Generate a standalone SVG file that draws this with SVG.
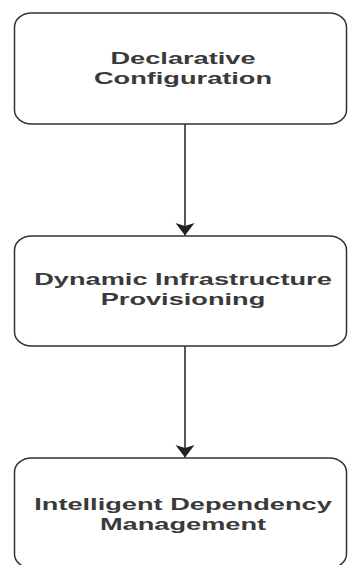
<svg xmlns="http://www.w3.org/2000/svg" width="348" height="565" viewBox="0 0 348 565">
  <style>
    .box { fill: #ffffff; stroke: #333333; stroke-width: 1.5; }
    .label { font-family: "Liberation Sans", Arial, sans-serif; font-size: 16px; font-weight: bold; fill: #3a3a3a; text-anchor: middle; }
    .edge { fill: none; stroke: #222222; stroke-width: 1.5; }
  </style>
  <defs>
    <!-- filled arrowhead pointing along the line direction, tip at the end point -->
    <marker id="arrow" markerUnits="userSpaceOnUse" markerWidth="14" markerHeight="22" viewBox="-13 -11 14 22" refX="0" refY="0" orient="auto">
      <path d="M0,0 L-12.5,-9.5 L-9.5,0 L-12.5,9.5 Z" fill="#222222"/>
    </marker>
  </defs>
  <rect width="348" height="565" fill="#ffffff"/>

  <g id="connectors">
    <line class="edge" x1="185" y1="124" x2="185" y2="235.5" marker-end="url(#arrow)"/>
    <line class="edge" x1="185" y1="346" x2="185" y2="457.5" marker-end="url(#arrow)"/>
  </g>

  <g id="declarative-configuration">
    <rect class="box" x="14.5" y="13" width="332" height="111" rx="17" ry="14"/>
    <text class="label" transform="translate(183 63.5) scale(1.7 1)">Declarative</text>
    <text class="label" transform="translate(183 83.5) scale(1.7 1)">Configuration</text>
  </g>

  <g id="dynamic-infrastructure-provisioning">
    <rect class="box" x="14.5" y="236" width="332" height="110" rx="17" ry="14"/>
    <text class="label" transform="translate(183 285) scale(1.7 1)">Dynamic Infrastructure</text>
    <text class="label" transform="translate(183 305) scale(1.7 1)">Provisioning</text>
  </g>

  <g id="intelligent-dependency-management">
    <rect class="box" x="14.5" y="458" width="332" height="110" rx="17" ry="14"/>
    <text class="label" transform="translate(183 510) scale(1.7 1)">Intelligent Dependency</text>
    <text class="label" transform="translate(183 530) scale(1.7 1)">Management</text>
  </g>
</svg>
